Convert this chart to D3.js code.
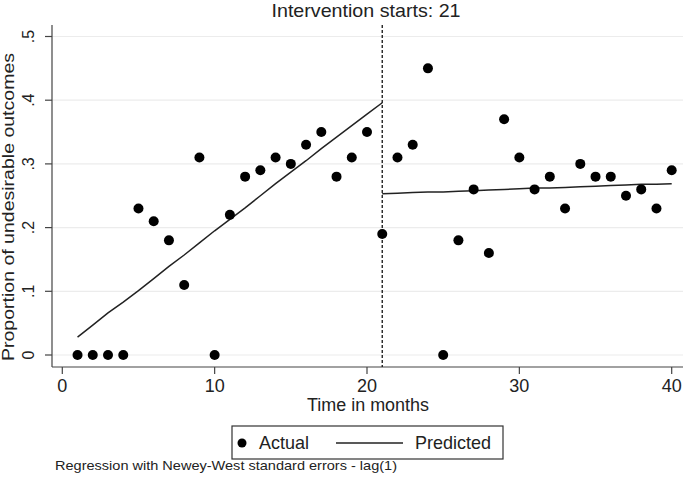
<!DOCTYPE html>
<html>
<head>
<meta charset="utf-8">
<script src="https://cdn.jsdelivr.net/npm/d3@7"></script>
<style>
  body { margin: 0; background: #fff; }
  svg text { font-family: "Liberation Sans", Arial, sans-serif; fill: #222; }
</style>
</head>
<body>
<svg id="chart" width="685" height="484"></svg>
<script>
// ---- data ----
const months = d3.range(1, 41);
const actual = [0, 0, 0, 0, 0.23, 0.21, 0.18, 0.11, 0.31, 0,
                0.22, 0.28, 0.29, 0.31, 0.30, 0.33, 0.35, 0.28, 0.31, 0.35,
                0.19, 0.31, 0.33, 0.45, 0, 0.18, 0.26, 0.16, 0.37, 0.31,
                0.26, 0.28, 0.23, 0.30, 0.28, 0.28, 0.25, 0.26, 0.23, 0.29];
const preMonths = d3.range(1, 22);
const predictedPre = [0.028, 0.047, 0.066, 0.083, 0.101, 0.120, 0.139, 0.157, 0.176, 0.195,
                      0.213, 0.231, 0.250, 0.269, 0.287, 0.305, 0.324, 0.342, 0.360, 0.378, 0.396];
const postMonths = d3.range(21, 41);
const predictedPost = [0.253, 0.254, 0.255, 0.256, 0.256, 0.257, 0.258, 0.259, 0.260, 0.261,
                       0.262, 0.262, 0.263, 0.264, 0.265, 0.266, 0.267, 0.268, 0.268, 0.269];
const xTicks = [0, 10, 20, 30, 40];
const yTicks = [0, 0.1, 0.2, 0.3, 0.4, 0.5];
const yTickLabels = ["0", ".1", ".2", ".3", ".4", ".5"];
const interventionMonth = 21;

// ---- layout ----
const svg = d3.select("#chart");
const x = d3.scaleLinear().domain([0, 40]).range([62.3, 671.7]);
const y = d3.scaleLinear().domain([0, 0.5]).range([355, 36.5]);
const axisX = 52, axisY = 367, rightEdge = 683;

function fitText(sel, len) {
  return sel.attr("textLength", len).attr("lengthAdjust", "spacingAndGlyphs");
}

// gridlines
svg.append("g").selectAll("line").data(yTicks).join("line")
  .attr("x1", axisX).attr("x2", rightEdge)
  .attr("y1", d => y(d)).attr("y2", d => y(d))
  .attr("stroke", "#ececec").attr("stroke-width", 1.2);

// y axis
svg.append("line").attr("x1", axisX).attr("x2", axisX).attr("y1", 25).attr("y2", axisY)
  .attr("stroke", "#444").attr("stroke-width", 1.2);
svg.append("g").selectAll("line").data(yTicks).join("line")
  .attr("x1", axisX - 7).attr("x2", axisX).attr("y1", d => y(d)).attr("y2", d => y(d))
  .attr("stroke", "#444").attr("stroke-width", 1.2);
svg.append("g").selectAll("text").data(yTicks).join("text")
  .attr("transform", d => `translate(33.5,${y(d)}) rotate(-90)`)
  .attr("text-anchor", "middle").attr("font-size", 16)
  .text((d, i) => yTickLabels[i]);
fitText(svg.append("text")
  .attr("transform", `translate(13.5,207) rotate(-90)`)
  .attr("text-anchor", "middle").attr("font-size", 16)
  .text("Proportion of undesirable outcomes"), 308);

// x axis
svg.append("line").attr("x1", axisX).attr("x2", rightEdge).attr("y1", axisY).attr("y2", axisY)
  .attr("stroke", "#444").attr("stroke-width", 1.2);
svg.append("g").selectAll("line").data(xTicks).join("line")
  .attr("x1", d => x(d)).attr("x2", d => x(d)).attr("y1", axisY).attr("y2", axisY + 7)
  .attr("stroke", "#444").attr("stroke-width", 1.2);
svg.append("g").selectAll("text").data(xTicks).join("text")
  .attr("x", d => x(d)).attr("y", 391.5)
  .attr("text-anchor", "middle").attr("font-size", 18)
  .text(d => d);
fitText(svg.append("text").attr("x", 368).attr("y", 411)
  .attr("text-anchor", "middle").attr("font-size", 18)
  .text("Time in months"), 122);

// title
fitText(svg.append("text").attr("x", 366).attr("y", 16.7)
  .attr("text-anchor", "middle").attr("font-size", 18.5)
  .text("Intervention starts: " + interventionMonth), 189);

// intervention line
svg.append("line")
  .attr("x1", x(interventionMonth)).attr("x2", x(interventionMonth))
  .attr("y1", 25).attr("y2", axisY)
  .attr("stroke", "#111").attr("stroke-width", 1.3).attr("stroke-dasharray", "3,2");

// predicted lines
const line = d3.line().x(d => x(d[0])).y(d => y(d[1]));
svg.append("path").datum(preMonths.map((m, i) => [m, predictedPre[i]]))
  .attr("d", line).attr("fill", "none").attr("stroke", "#222").attr("stroke-width", 1.5);
svg.append("path").datum(postMonths.map((m, i) => [m, predictedPost[i]]))
  .attr("d", line).attr("fill", "none").attr("stroke", "#222").attr("stroke-width", 1.5);

// actual points
svg.append("g").selectAll("circle").data(months).join("circle")
  .attr("cx", d => x(d)).attr("cy", (d, i) => y(actual[i]))
  .attr("r", 5).attr("fill", "#000");

// legend
const lg = svg.append("g");
lg.append("rect").attr("x", 232).attr("y", 426).attr("width", 271).attr("height", 33)
  .attr("fill", "#fff").attr("stroke", "#333").attr("stroke-width", 1.2);
lg.append("circle").attr("cx", 242).attr("cy", 443).attr("r", 4.5).attr("fill", "#000");
fitText(lg.append("text").attr("x", 259).attr("y", 449).attr("font-size", 18.5).text("Actual"), 50);
lg.append("line").attr("x1", 336).attr("x2", 403).attr("y1", 443).attr("y2", 443)
  .attr("stroke", "#222").attr("stroke-width", 1.5);
fitText(lg.append("text").attr("x", 415).attr("y", 449).attr("font-size", 18.5).text("Predicted"), 76);

// footnote
fitText(svg.append("text").attr("x", 55).attr("y", 470).attr("font-size", 13.5)
  .text("Regression with Newey-West standard errors - lag(1)"), 342);
</script>
</body>
</html>
